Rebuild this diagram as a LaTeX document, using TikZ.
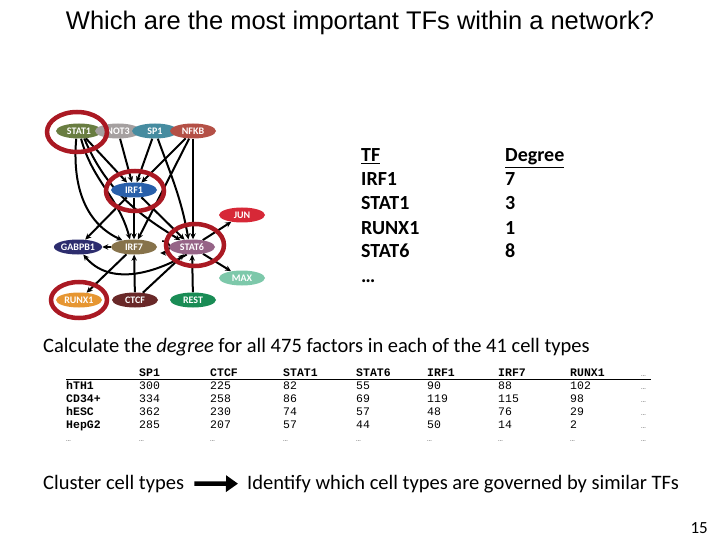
\documentclass[tikz,border=0pt]{standalone}
\usepackage{fontspec}
\setmainfont{Carlito}
\newfontfamily\titlefont{Liberation Sans}
\newfontfamily\tabfont{Liberation Mono}
\usetikzlibrary{arrows.meta,positioning,calc,shapes.geometric,backgrounds}
\definecolor{hubred}{RGB}{170,25,35}
\definecolor{cSTATa}{RGB}{105,125,65}
\definecolor{cNOT}{RGB}{165,160,160}
\definecolor{cSP}{RGB}{70,140,160}
\definecolor{cNFKB}{RGB}{180,80,70}
\definecolor{cIRFa}{RGB}{40,95,170}
\definecolor{cJUN}{RGB}{215,40,55}
\definecolor{cGAB}{RGB}{45,45,110}
\definecolor{cIRFb}{RGB}{135,115,75}
\definecolor{cSTATb}{RGB}{150,100,135}
\definecolor{cMAX}{RGB}{125,200,170}
\definecolor{cRUNX}{RGB}{230,150,50}
\definecolor{cCTCF}{RGB}{105,40,40}
\definecolor{cREST}{RGB}{25,140,85}
\tikzset{
  tfnode/.style={ellipse, fill=#1, text=white, inner sep=0pt,
    minimum width=46pt, minimum height=15pt,
    font=\bfseries\fontsize{10}{10}\selectfont},
  regln/.style={-{Stealth[length=6pt,width=5.5pt]}, line width=2pt},
  hubring/.style={ellipse, draw=hubred, line width=4.5pt, inner sep=0pt},
  degtext/.style={font=\bfseries\fontsize{20}{20}\selectfont, anchor=base west, inner sep=0pt},
  headcell/.style={font=\tabfont\bfseries\fontsize{11.5}{11.5}\selectfont, anchor=base west, inner sep=0pt},
  cellval/.style={font=\tabfont\fontsize{11.5}{11.5}\selectfont, anchor=base west, inner sep=0pt},
  dotcell/.style={font=\tabfont\fontsize{8}{8}\selectfont, text=black!55, anchor=base west, inner sep=0pt},
  bodytext/.style={font=\fontsize{20.5}{20.5}\selectfont, anchor=base west, inner sep=0pt},
  bigarrow/.style={-{Triangle[length=12pt,width=16pt]}, line width=4.5pt},
}
\begin{document}
\begin{tikzpicture}[x=1pt, y=-1pt]
  \useasboundingbox (0,0) rectangle (720,540);
  % title
  \node[font=\titlefont\fontsize{25.5}{25.5}\selectfont, anchor=base] (title) at (360,30)
    {Which are the most important TFs within a network?};

  % network of factors
  \foreach \name/\x/\y/\col in {STAT1/79/131/cSTATa, NOT3/118/131/cNOT, SP1/155/131/cSP,
      NFKB/193/131/cNFKB, IRF1/134/190/cIRFa, JUN/242/215/cJUN, GABPB1/78/247/cGAB,
      IRF7/134/247/cIRFb, STAT6/192/247/cSTATb, MAX/242/278/cMAX, RUNX1/79/300/cRUNX,
      CTCF/135/300/cCTCF, REST/193/300/cREST}
    \node[tfnode=\col] (\name) at (\x,\y) {\name};

  \begin{scope}[on background layer]
    \foreach \src/\dst in {STAT1/IRF1, NOT3/IRF1, SP1/IRF1, NFKB/IRF1,
        NFKB/IRF7, IRF1/IRF7, IRF1/STAT6, IRF1/GABPB1, IRF7/GABPB1, IRF7/RUNX1,
        CTCF/IRF7, CTCF/STAT6, REST/STAT6, STAT6/JUN, STAT6/MAX}
      \draw[regln] (\src) -- (\dst);
    \draw[regln] (NFKB.south) -- (STAT6.north -| NFKB.south);
    \draw[regln] (STAT1.250) to[out=-95, in=155] (IRF7.150);
    \draw[regln] (STAT1.285) to[out=-75, in=105] (IRF7.118);
    \draw[regln] (STAT1.305) .. controls (108,195) and (145,218) .. (STAT6.150);
    \draw[regln] (SP1.290) to[out=-70, in=100] (STAT6.115);
    \draw[regln] (STAT6.235) to[out=-150, in=-50] (GABPB1.-55);
    \draw[regln, line width=1.6pt] ($(IRF7.east)+(5,-6)$) to[out=0, in=0, looseness=2.2]
      ($(IRF7.east)+(3,6)$);
  \end{scope}

  % hubs with high degree
  \node[hubring, minimum width=60pt, minimum height=40pt] (ringSTAT1) at (77,132) {};
  \node[hubring, minimum width=58pt, minimum height=40pt] (ringIRF1) at (135,191) {};
  \node[hubring, minimum width=58pt, minimum height=42pt] (ringSTAT6) at (195,245) {};
  \node[hubring, minimum width=56pt, minimum height=36pt] (ringRUNX1) at (79,300) {};

  % degree list
  \node[degtext] (hdTF) at (361,162) {\underline{TF}};
  \node[degtext] (hdDeg) at (505,162) {\underline{Degree}};
  \foreach \tf/\deg [count=\r] in {IRF1/7, STAT1/3, RUNX1/1, STAT6/8}{
    \node[degtext] (tf\r) at (361,162+24*\r) {\tf};
    \node[degtext] (dg\r) at (505,162+24*\r) {\deg};
  }
  \node[degtext] (tfmore) at (361,282) {…};

  \node[bodytext] (calc) at (43,352)
    {Calculate the \textit{degree} for all 475 factors in each of the 41 cell types};

  % degree table
  \foreach \hd/\cx [count=\c] in {SP1/139, CTCF/210, STAT1/283, STAT6/356, IRF1/427,
      IRF7/498, RUNX1/570}
    \node[headcell] (hd\c) at (\cx,376) {\hd};
  \node[dotcell] (hdmore) at (641,376) {…};
  \draw[line width=1.6pt] (66,379.5) -- (651,379.5);
  \foreach \rlab/\va/\vb/\vc/\vd/\ve/\vf/\vg [count=\r] in {hTH1/300/225/82/55/90/88/102,
      CD34+/334/258/86/69/119/115/98, hESC/362/230/74/57/48/76/29,
      HepG2/285/207/57/44/50/14/2}{
    \node[headcell] (rl\r) at (66,376+13*\r) {\rlab};
    \foreach \v/\cx [count=\c] in {\va/139, \vb/210, \vc/283, \vd/356, \ve/427,
        \vf/498, \vg/570}
      \node[cellval] (v\r-\c) at (\cx,376+13*\r) {\v};
    \node[dotcell] (vm\r) at (641,376+13*\r) {…};
  }
  \foreach \cx [count=\c] in {66,139,210,283,356,427,498,570,641}
    \node[dotcell] (last\c) at (\cx,441) {…};

  % next step
  \node[bodytext] (cluster) at (43,489) {Cluster cell types};
  \node[bodytext] (identify) at (247,489)
    {Identify which cell types are governed by similar TFs};
  \draw[bigarrow] ($(cluster.east)+(10,0)$) -- ($(identify.west)+(-9,0)$);

  \node[font=\fontsize{17}{17}\selectfont, anchor=base east, inner sep=0pt] (pagenum) at (708,533) {15};
\end{tikzpicture}
\end{document}
